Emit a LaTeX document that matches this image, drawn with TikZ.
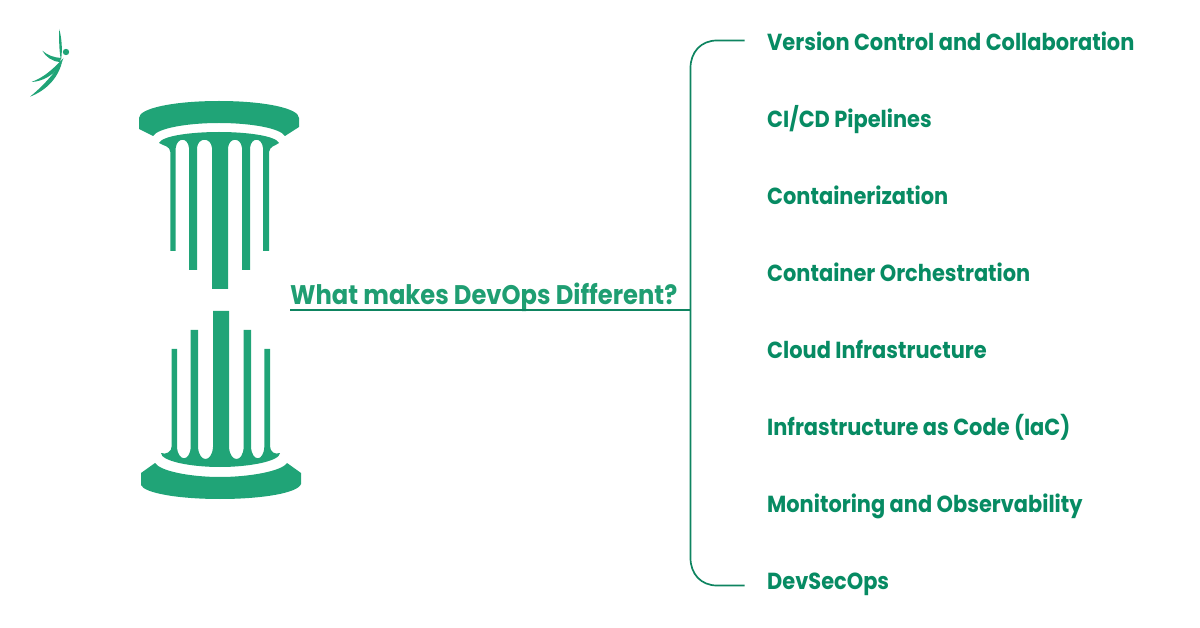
\documentclass[tikz,border=0pt]{standalone}
\usepackage{fontspec}
\setmainfont[FakeStretch=0.9]{Poppins}
\definecolor{pillar}{HTML}{20A477}
\definecolor{itemtext}{HTML}{078B63}
\definecolor{headtext}{HTML}{1F9E72}
\definecolor{rule}{HTML}{0E8460}
\tikzset{
  itemlabel/.style={anchor=base west,inner sep=0pt,text=itemtext,font=\fontsize{23.25}{26}\selectfont\bfseries},
  headlabel/.style={anchor=base west,inner sep=0pt,text=headtext,font=\fontsize{26.9}{29}\selectfont\bfseries},
  bracketline/.style={draw=rule,line width=1.7pt},
  pillarfill/.style={fill=pillar,draw=none},
}
\begin{document}
\begin{tikzpicture}[x=1pt,y=-1pt]
\useasboundingbox (0,0) rectangle (1200,628);
% logo
\fill[pillar] (66,52) circle (3.2);
\fill[pillar] (59.3,29) .. controls (62,40) and (62.5,50) .. (61,60.5) .. controls (59,50) and (59,40) .. (59.3,29) -- cycle;
\fill[pillar] (42.3,50.7) .. controls (48,55.5) and (54,57.5) .. (61,58) .. controls (60.5,60) and (60.5,61) .. (60,62) .. controls (52,61.5) and (46,57) .. (42.3,50.7) -- cycle;
\fill[pillar] (63.5,58) .. controls (60.5,69) and (48,81) .. (31.5,82) .. controls (45,77) and (54,68) .. (63.5,58) -- cycle;
\fill[pillar] (62,62) .. controls (58,79) and (45,91) .. (30,96.7) .. controls (42,87) and (52,76) .. (62,62) -- cycle;
% top of pillar
\path[pillarfill] (139,118) .. controls (139,108) and (175,101) .. (219,101) .. controls (263,101) and (299,108) .. (299,118) -- (299,127) -- (285,136) .. controls (280,128) and (250,123) .. (219,123) .. controls (188,123) and (158,128) .. (153,136) -- (139,129) -- cycle;
\path[pillarfill] (159,143) .. controls (162,136) and (190,132) .. (219,132) .. controls (248,132) and (276,136) .. (279,143) .. controls (275,146) and (270,146) .. (269,152)
 -- (269,251) -- (263,251) -- (263,148) .. controls (262,137) and (251,137) .. (250,148)
 -- (250,270) -- (242,270) -- (242,148) .. controls (241,137) and (229,137) .. (228,148)
 -- (228,289) -- (212,289) -- (212,148) .. controls (211,137) and (198,137) .. (197,148)
 -- (197,270) -- (189,270) -- (189,148) .. controls (188,137) and (177,137) .. (175.7,148)
 -- (175.7,251) -- (170.3,251) -- (170.3,152) .. controls (170,146) and (164,146) .. (159,143) -- cycle;
% bottom of pillar
\path[pillarfill] (141,473) -- (155,463) .. controls (160,471) and (190,477) .. (220,477) .. controls (250,477) and (282,471) .. (287,463) -- (301,473) -- (301,484) .. controls (298,493) and (262,499) .. (220,499) .. controls (178,499) and (144,493) .. (141,485) -- cycle;
\path[pillarfill] (161,453) .. controls (166,455) and (171.7,452) .. (171.7,446)
 -- (171.7,349) -- (177,349) -- (177,447) .. controls (178,462) and (190,462) .. (190.7,447)
 -- (190.7,330) -- (198,330) -- (198,447) .. controls (199,463) and (212,463) .. (213,447)
 -- (213,311) -- (229,311) -- (229,447) .. controls (230,463) and (243,463) .. (243.7,447)
 -- (243.7,330) -- (251,330) -- (251,447) .. controls (252,462) and (263.5,462) .. (264.3,447)
 -- (264.3,349) -- (270,349) -- (270,446) .. controls (270,452) and (275,455) .. (280,453)
 .. controls (280,461) and (250,467) .. (220,467) .. controls (190,467) and (161,461) .. (161,453) -- cycle;
% labels
\node[headlabel] (head) at (290,305) {What makes DevOps Different?};
\node[itemlabel] (i1) at (767,50.3) {Version Control and Collaboration};
\node[itemlabel] (i2) at (767,127.3) {CI/CD Pipelines};
\node[itemlabel] (i3) at (767,204.3) {Containerization};
\node[itemlabel] (i4) at (767,281.3) {Container Orchestration};
\node[itemlabel] (i5) at (767,358.3) {Cloud Infrastructure};
\node[itemlabel] (i6) at (767,435.3) {Infrastructure as Code (IaC)};
\node[itemlabel] (i7) at (767,512.3) {Monitoring and Observability};
\node[itemlabel] (i8) at (767,589.3) {DevSecOps};
% connectors
\coordinate (stemstart) at (290,310);
\coordinate (stemend) at (690.5,310);
\coordinate (brtop) at (744.5,40.5);
\coordinate (brbot) at (744.5,585.5);
\draw[bracketline] (stemstart) -- (stemend);
\draw[bracketline] (brtop) -- (717,40.5) .. controls (701,40.5) and (690.5,52) .. (690.5,68) -- (690.5,558) .. controls (690.5,574) and (701,585.5) .. (717,585.5) -- (brbot);
\end{tikzpicture}
\end{document}
